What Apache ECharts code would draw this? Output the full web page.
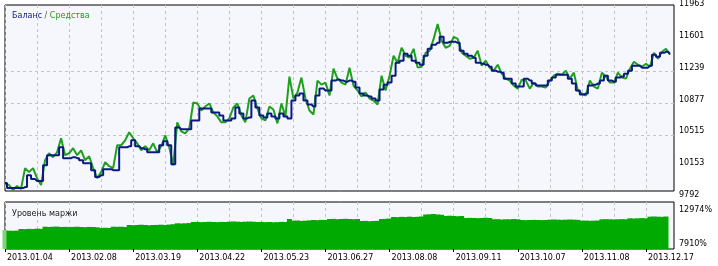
<!DOCTYPE html>
<html><head><meta charset="utf-8">
<script src="https://cdn.jsdelivr.net/npm/echarts@6/dist/echarts.min.js"></script>
<style>html,body{margin:0;padding:0;background:#fff}#c{width:718px;height:266px}</style>
</head><body><div id="c"></div>
<script>
const balance = [9973,9916,9916,9916,9916,9928,10063,10018,9996,9996,10176,10290,10290,10290,10380,10256,10256,10267,10256,10233,10199,10199,10120,10041,10063,10131,10131,10120,10120,10380,10380,10391,10459,10391,10369,10357,10323,10323,10323,10403,10448,10403,10188,10606,10584,10584,10584,10685,10685,10821,10821,10821,10776,10776,10742,10685,10685,10708,10832,10764,10708,10719,10911,10832,10742,10719,10764,10731,10708,10764,10731,10708,10911,10968,10991,10911,10866,10844,10968,11047,11025,11025,11138,11149,11138,11126,11138,11126,11058,10991,10968,10957,10934,10911,11036,11092,11115,11194,11341,11364,11443,11420,11364,11341,11318,11420,11499,11545,11567,11635,11567,11579,11579,11567,11477,11443,11420,11398,11341,11330,11318,11296,11251,11239,11228,11160,11160,11104,11070,11070,11160,11138,11104,11081,11081,11081,11138,11172,11205,11205,11205,11160,11104,11025,10979,10991,11081,11092,11104,11138,11194,11138,11126,11172,11183,11217,11251,11307,11307,11285,11285,11307,11432,11409,11454,11465,11443];
const equity = [9973,9950,9894,9939,9905,10143,10097,10143,10029,9950,10233,10312,10267,10323,10482,10290,10312,10369,10290,10346,10233,10278,10143,10029,10097,10210,10165,10143,10403,10403,10459,10550,10482,10425,10346,10391,10346,10425,10323,10391,10516,10380,10176,10663,10561,10538,10595,10889,10878,10798,10844,10878,10776,10731,10663,10663,10708,10832,10878,10742,10663,10934,10968,10821,10708,10685,10844,10810,10651,10878,10731,11183,10934,11002,11172,10934,10798,10753,11138,11092,11115,10968,11273,11160,11115,11092,11285,11081,11025,10957,11002,10934,10911,10866,11194,11025,11194,11420,11341,11511,11420,11398,11499,11285,11296,11454,11477,11612,11782,11590,11511,11533,11635,11612,11454,11420,11386,11398,11477,11307,11364,11285,11251,11318,11217,11160,11138,11081,11047,11149,11138,11047,11115,11070,11070,11058,11138,11194,11217,11205,11251,11160,11228,11025,10991,10968,11138,11070,11047,11228,11183,11115,11115,11228,11172,11160,11273,11352,11318,11296,11330,11296,11454,11386,11465,11499,11432];
const marginLevel = [10591,10487,10470,10500,10740,10720,10760,10740,10790,10760,11082,11040,11082,11100,11038,11060,11020,11050,11080,11038,11010,11050,11038,10990,10889,10930,10889,11082,11060,11082,11040,11336,11300,11336,11380,11336,11290,11336,11350,11380,11336,11400,11450,11589,11560,11589,11620,11782,11800,11760,11782,11820,11782,11760,11800,11782,11827,11860,11827,11800,11827,11850,11827,11782,11800,11760,11782,11740,11760,11800,11782,12229,11976,12000,11950,11976,12020,12080,12050,12100,12080,12229,12250,12200,12229,12260,12229,12200,12229,11931,11950,11900,11931,11960,12229,12250,12300,12527,12500,12550,12527,12580,12527,12560,12600,12899,12930,12974,12899,12860,12676,12720,12676,12640,12676,12378,12400,12378,12350,12378,12420,12378,12185,12200,12150,12185,12185,12230,12185,12080,12050,12080,12100,12080,12060,12080,12125,12150,12125,12100,12125,12150,12125,12100,11976,11990,11960,11976,12000,12185,12200,12185,12160,12185,12210,12185,12333,12300,12333,12360,12333,12572,12600,12572,12550,12600];
const dateLabels = ['2013.01.04','2013.02.08','2013.03.19','2013.04.22','2013.05.23','2013.06.27','2013.08.08','2013.09.11','2013.10.07','2013.11.08','2013.12.17'];
const mainTicks = [9792,10153,10515,10877,11239,11601,11963];
const marginTicks = [7910,12974];
const LABEL_STEP = 16;
const categories = [];
for (let i = 0; i < 168; i++) categories.push(i);

const FONT = 'DejaVu Sans';
const dash = {show:true, lineStyle:{color:'#c4c4c4', type:[3,3], width:1}};
const chart = echarts.init(document.getElementById('c'), null, {renderer:'canvas'});
chart.setOption({
  animation:false,
  backgroundColor:'#ffffff',
  textStyle:{fontFamily:FONT},
  title:[
    {left:7, top:7, text:'{b|Баланс} {s|/} {e|Средства}',
     textStyle:{fontSize:8, fontWeight:'normal', fontFamily:FONT,
       rich:{b:{color:'#101880',fontSize:8,fontFamily:FONT},s:{color:'#555',fontSize:8,fontFamily:FONT},e:{color:'#1ea01e',fontSize:8,fontFamily:FONT}}}},
    {left:7, top:205, text:'Уровень маржи', textStyle:{fontSize:8, fontWeight:'normal', color:'#222', fontFamily:FONT}}
  ],
  grid:[
    {left:5, top:5, width:669, height:186, show:true, backgroundColor:'#f5f7fd', borderColor:'#000', borderWidth:1},
    {left:5, top:202, width:669, height:47, show:true, backgroundColor:'#f5f7fd', borderColor:'#000', borderWidth:1},
    {left:5, top:7, width:669, height:192}
  ],
  xAxis:[
    {gridIndex:0, type:'category', data:categories, boundaryGap:false,
     axisLine:{show:false}, axisTick:{show:false}, axisLabel:{show:false},
     splitLine:Object.assign({interval:7}, dash)},
    {gridIndex:1, type:'category', data:categories, boundaryGap:false,
     axisLine:{show:false},
     axisTick:{show:true, interval:LABEL_STEP-1, length:3, lineStyle:{color:'#000'}},
     axisLabel:{show:true, interval:LABEL_STEP-1, align:'left', margin:5, padding:[0,0,0,2],
       color:'#000', fontSize:8, fontFamily:FONT,
       formatter:(v,i)=> (i % LABEL_STEP === 0 && dateLabels[i/LABEL_STEP]) ? dateLabels[i/LABEL_STEP] : ''},
     splitLine:Object.assign({interval:7}, dash)},
    {gridIndex:2, type:'category', data:categories, boundaryGap:false, show:false}
  ],
  yAxis:[
    {gridIndex:0, type:'value', show:false, splitLine:{show:false}},
    {gridIndex:1, type:'value', position:'right', min:7761, max:14761,
     axisLine:{show:false}, splitLine:{show:false},
     axisTick:{show:false, customValues:marginTicks},
     axisLabel:{customValues:marginTicks, margin:5, verticalAlign:'bottom', color:'#000', fontSize:8, fontFamily:FONT,
       formatter:v=>Math.round(v)+'%'}},
    {gridIndex:2, type:'value', position:'right', min:mainTicks[0], max:mainTicks[mainTicks.length-1],
     axisLine:{show:false},
     axisTick:{show:false, customValues:mainTicks.slice(1,-1)},
     splitLine:{show:true, showMinLine:false, showMaxLine:false, lineStyle:{color:'#c4c4c4', type:[3,3], width:1}},
     axisLabel:{customValues:mainTicks, margin:5, verticalAlign:'bottom', color:'#000', fontSize:8, fontFamily:FONT,
       formatter:v=>String(Math.round(v))}}
  ],
  series:[
    {type:'bar', xAxisIndex:1, yAxisIndex:1, data:marginLevel, barWidth:5, barGap:'0%', barCategoryGap:'0%',
     itemStyle:{color:(p)=> p.dataIndex===0 ? '#7ed47e' : '#00aa00'}, silent:true},
    {type:'line', xAxisIndex:2, yAxisIndex:2, data:equity, symbol:'none',
     lineStyle:{color:'#1ea01e', width:2}, z:3},
    {type:'line', xAxisIndex:2, yAxisIndex:2, data:balance, symbol:'none', step:'middle',
     lineStyle:{color:'#0c1a80', width:2}, z:4}
  ]
});
</script></body></html>
